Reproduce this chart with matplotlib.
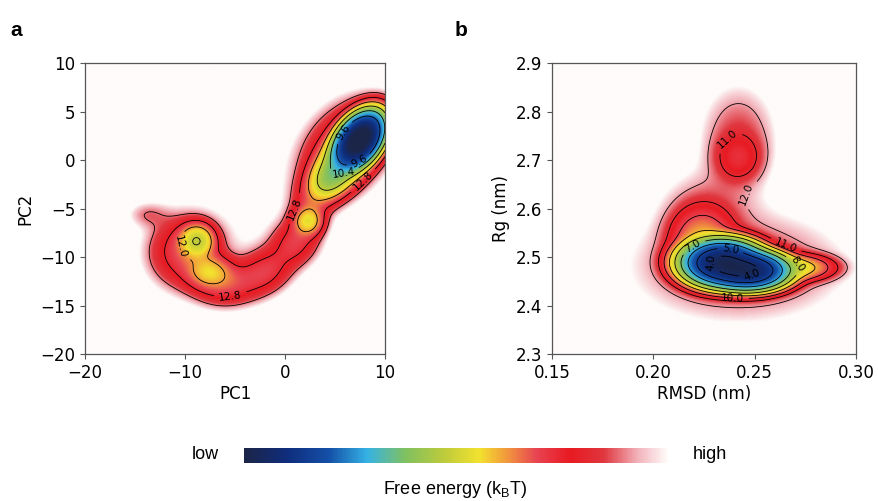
import numpy as np
import matplotlib
matplotlib.use("Agg")
import matplotlib.pyplot as plt
from matplotlib.colors import LinearSegmentedColormap, Normalize
from matplotlib.cm import ScalarMappable

plt.rcParams['font.family'] = ['DejaVu Sans']
plt.rcParams['mathtext.fontset'] = 'custom'
plt.rcParams['mathtext.rm'] = 'Liberation Sans'

# ---- panel a: PC1/PC2 landscape, wells (centre, widths, angle, depth in kBT)
a_cx = [7.4, 5.4, 4.4, -8.8, -7.6, 2.3, -10.0, -6.0, -2.0, 1.0, 3.0, 6.2, -13.8, -5.0, -19.0]
a_cy = [2.1, -0.6, -2.0, -8.3, -11.5, -6.3, -9.5, -12.8, -11.5, -8.5, -3.5, 1.5, -5.6, -8.0, 0.0]
a_sx = [1.5, 1.9, 1.1, 1.0, 1.3, 0.9, 2.2, 2.0, 1.8, 1.6, 2.0, 3.5, 1.4, 8.0, 1.5]
a_sy = [0.95, 1.2, 0.9, 1.0, 1.0, 0.9, 2.2, 1.4, 1.4, 1.4, 1.2, 2.5, 0.9, 6.0, 2.5]
a_ang = [55, 55, 50, 0, 0, 0, 0, 0, 30, 45, 65, 50, 0, 20, 0]
a_f0 = [8.0, 10.9, 11.8, 11.4, 12.1, 11.8, 12.5, 12.6, 12.7, 12.7, 12.7, 12.5, 13.9, 14.6, 14.6]
a_levels = [9.6, 10.4, 11.2, 12.0, 12.8, 13.6]
a_label_xy = [(5.8, 2.9), (5.8, -1.2), (7.5, -0.3), (7.8, -2.1), (1.3, -5.2),
              (-11.0, -9.1), (-5.5, -13.7)]

# ---- panel b: RMSD/Rg landscape
b_cx = [0.234, 0.247, 0.224, 0.270, 0.242, 0.226, 0.242, 0.242]
b_cy = [2.488, 2.472, 2.535, 2.478, 2.480, 2.600, 2.745, 2.705]
b_sx = [0.008, 0.008, 0.008, 0.009, 0.030, 0.014, 0.011, 0.0065]
b_sy = [0.019, 0.016, 0.035, 0.013, 0.065, 0.050, 0.065, 0.028]
b_ang = [0, 0, 0, 0, 0, 0, 0, 0]
b_f0 = [3.8, 3.9, 9.2, 8.5, 11.2, 11.8, 11.4, 10.6]
b_levels = [4.0, 5.0, 6.0, 7.0, 8.0, 9.0, 10.0, 11.0, 12.0]
b_label_xy = [(0.236, 2.745), (0.245, 2.632), (0.220, 2.520), (0.238, 2.514),
              (0.2255, 2.488), (0.2487, 2.463), (0.239, 2.418), (0.266, 2.530),
              (0.272, 2.490)]

cmap = LinearSegmentedColormap.from_list('fe', [
    (0.0, '#1b2548'), (0.1, '#0f2d7c'), (0.2, '#1450a8'), (0.29, '#36b2e4'),
    (0.38, '#80c060'), (0.47, '#bccb3c'), (0.555, '#f2e22e'), (0.61, '#f2a43a'),
    (0.69, '#e84452'), (0.77, '#e81a22'), (0.85, '#e0363e'), (0.93, '#f2b2ba'),
    (1.0, '#fefbfa')])


def landscape(X, Y, cx, cy, sx, sy, ang, f0):
    P = np.zeros_like(X)
    for x0, y0, s1, s2, a, f in zip(cx, cy, sx, sy, ang, f0):
        t = np.deg2rad(a)
        dx, dy = X - x0, Y - y0
        u = dx * np.cos(t) + dy * np.sin(t)
        v = -dx * np.sin(t) + dy * np.cos(t)
        P += np.exp(-f - 0.5 * ((u / s1) ** 2 + (v / s2) ** 2))
    return -np.log(P)


def draw(ax, xlim, ylim, F, levels, vmin, vmax, label_xy):
    X, Y, Z = F
    ax.imshow(np.clip(Z, vmin, vmax), extent=[*xlim, *ylim], origin='lower',
              cmap=cmap, vmin=vmin, vmax=vmax, aspect='auto', interpolation='bilinear')
    cs = ax.contour(X, Y, Z, levels=levels, colors='k', linewidths=0.6)
    ax.set_xlim(xlim)
    ax.set_ylim(ylim)
    ax.clabel(cs, fmt='%.1f', fontsize=7.5, inline=True, manual=label_xy)
    for s in ax.spines.values():
        s.set_color('#555555')
        s.set_linewidth(0.9)
    ax.tick_params(labelsize=12, color='#555555')


fig = plt.figure(figsize=(8.79, 5.01), dpi=100)

ax1 = fig.add_axes([0.0967, 0.2934, 0.3413, 0.5808])
xa = np.linspace(-20, 10, 400)
ya = np.linspace(-20, 10, 400)
XA, YA = np.meshgrid(xa, ya)
FA = landscape(XA, YA, a_cx, a_cy, a_sx, a_sy, a_ang, a_f0)
draw(ax1, (-20, 10), (-20, 10), (XA, YA, FA), a_levels, 8.3, 14.3, a_label_xy)
ax1.set_xticks([-20, -10, 0, 10])
ax1.set_yticks([-20, -15, -10, -5, 0, 5, 10])
ax1.set_xlabel('PC1', fontsize=12, labelpad=2)
ax1.set_ylabel('PC2', fontsize=12)

ax2 = fig.add_axes([0.628, 0.2934, 0.3458, 0.5808])
xb = np.linspace(0.15, 0.30, 400)
yb = np.linspace(2.3, 2.9, 400)
XB, YB = np.meshgrid(xb, yb)
FB = landscape(XB, YB, b_cx, b_cy, b_sx, b_sy, b_ang, b_f0)
draw(ax2, (0.15, 0.30), (2.3, 2.9), (XB, YB, FB), b_levels, 3.5, 12.8, b_label_xy)
ax2.set_xticks([0.15, 0.20, 0.25, 0.30])
ax2.set_yticks([2.3, 2.4, 2.5, 2.6, 2.7, 2.8, 2.9])
ax2.set_xlabel('RMSD (nm)', fontsize=12, labelpad=2)
ax2.set_ylabel('Rg (nm)', fontsize=12)

fig.text(0.012, 0.928, 'a', fontsize=15, fontweight='bold', family='Liberation Sans')
fig.text(0.517, 0.928, 'b', fontsize=15, fontweight='bold', family='Liberation Sans')

cax = fig.add_axes([0.2776, 0.0758, 0.4824, 0.03])
cb = fig.colorbar(ScalarMappable(Normalize(0, 1), cmap), cax=cax, orientation='horizontal')
cb.outline.set_visible(False)
cb.set_ticks([])
fig.text(0.234, 0.092, 'low', fontsize=13, family='Liberation Sans', ha='center', va='center')
fig.text(0.808, 0.092, 'high', fontsize=13, family='Liberation Sans', ha='center', va='center')
fig.text(0.518, 0.022, r'Free energy (k$_\mathrm{B}$T)', fontsize=13,
         family='Liberation Sans', ha='center', va='center')

fig.savefig('out.png', dpi=100)
